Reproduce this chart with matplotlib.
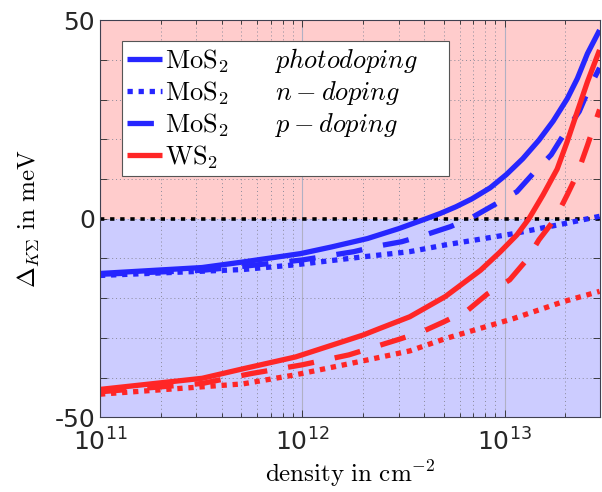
import matplotlib
matplotlib.use('Agg')
import matplotlib.pyplot as plt
from matplotlib.ticker import LogLocator, NullFormatter

plt.rcParams['axes.unicode_minus'] = False

# values, density in cm^-2, energy in meV
dens_mos2_photo = [1.0e11, 3.2e11, 5.1e11, 9.8e11, 1.4e12, 2.1e12, 3.0e12, 4.1e12, 4.8e12, 5.75e12,
                   6.9e12, 8.5e12, 1.02e13, 1.23e13, 1.48e13, 1.74e13, 2.04e13, 2.29e13, 2.57e13, 2.95e13]
e_mos2_photo = [-13.8, -12.3, -10.9, -8.8, -7.1, -5.0, -2.5, 0.0, 1.3, 3.0,
                5.0, 7.8, 11.1, 15.1, 19.8, 24.6, 30.2, 35.3, 41.6, 47.5]

dens_mos2_n = [1.0e11, 5.1e11, 9.3e11, 2.0e12, 3.4e12, 5.1e12, 1.1e13, 1.95e13, 2.95e13]
e_mos2_n = [-14.3, -12.8, -11.6, -9.6, -8.3, -6.6, -3.8, -1.3, 0.6]

dens_mos2_p = [1.0e11, 3.2e11, 5.1e11, 1.0e12, 1.8e12, 2.3e12, 3.1e12, 4.1e12, 5.4e12, 6.9e12,
               8.9e12, 1.15e13, 1.38e13, 1.7e13, 2.0e13, 2.34e13, 2.63e13, 2.95e13]
e_mos2_p = [-14.0, -13.0, -12.0, -10.4, -8.3, -7.0, -5.8, -4.0, -2.0, 0.3,
            3.5, 6.8, 11.3, 16.1, 21.9, 27.0, 33.0, 38.0]

dens_ws2_photo = [1.0e11, 3.2e11, 5.1e11, 9.3e11, 2.0e12, 2.4e12, 3.4e12, 5.1e12, 7.6e12, 9.5e12,
                  1.15e13, 1.32e13, 1.55e13, 1.82e13, 2.04e13, 2.29e13, 2.57e13, 2.95e13]
e_ws2_photo = [-43.0, -40.2, -37.8, -34.8, -29.3, -27.7, -24.7, -19.6, -13.0, -8.4,
               -4.1, 0.0, 6.0, 12.5, 19.4, 27.0, 34.5, 42.5]

dens_ws2_n = [1.0e11, 5.1e11, 9.3e11, 2.0e12, 3.4e12, 5.1e12, 1.1e13, 1.95e13, 2.95e13]
e_ws2_n = [-44.2, -41.6, -39.3, -35.8, -33.3, -30.2, -25.2, -20.9, -18.3]

dens_ws2_p = [1.0e11, 3.2e11, 5.6e11, 1.0e12, 1.7e12, 3.0e12, 3.9e12, 5.0e12, 6.6e12, 8.2e12,
              1.06e13, 1.29e13, 1.48e13, 1.78e13, 2.04e13, 2.29e13, 2.57e13, 2.95e13]
e_ws2_p = [-43.6, -41.5, -39.0, -36.8, -34.3, -30.4, -28.5, -26.0, -23.0, -19.0,
           -15.4, -10.3, -5.3, 0.0, 6.0, 11.3, 18.5, 27.5]

y_ticks = [-50, -40, -30, -20, -10, 0, 10, 20, 30, 40, 50]
y_ticklabels = ['-50', '', '', '', '', '0', '', '', '', '', '50']

legend_labels = [r'$\mathrm{MoS}_2\qquad photodoping$    ',
                 r'$\mathrm{MoS}_2\qquad n-doping$',
                 r'$\mathrm{MoS}_2\qquad p-doping$',
                 r'$\mathrm{WS}_2$']

blue = '#2626ff'
red = '#ff2626'
lw = 3.8
dot = (0, (1.0, 1.1))
dash = (0, (5.0, 4.0))

fig = plt.figure(figsize=(6.02, 4.92), dpi=100)
ax = fig.add_axes([0.166, 0.152, 0.830, 0.807])

ax.axhspan(0, 50, color='#ffcccc', zorder=0, lw=0)
ax.axhspan(-50, 0, color='#ccccff', zorder=0, lw=0)
ax.set_axisbelow(True)

h1, = ax.plot(dens_mos2_photo, e_mos2_photo, color=blue, lw=lw, solid_capstyle='butt', solid_joinstyle='round')
h2, = ax.plot(dens_mos2_n, e_mos2_n, color=blue, lw=lw, ls=dot, dash_capstyle='butt')
h3, = ax.plot(dens_mos2_p, e_mos2_p, color=blue, lw=lw, ls=dash, dash_capstyle='butt')
h4, = ax.plot(dens_ws2_photo, e_ws2_photo, color=red, lw=lw, solid_capstyle='butt', solid_joinstyle='round')
ax.plot(dens_ws2_n, e_ws2_n, color=red, lw=lw, ls=dot, dash_capstyle='butt')
ax.plot(dens_ws2_p, e_ws2_p, color=red, lw=lw, ls=dash, dash_capstyle='butt')
ax.axhline(0, color='black', lw=2.6, ls=(0, (1.2, 1.6)), dash_capstyle='butt', zorder=1.5)

ax.set_xscale('log')
ax.set_xlim(1e11, 2.95e13)
ax.set_ylim(-50, 50)

ax.set_yticks(y_ticks)
ax.set_yticklabels(y_ticklabels)
ax.xaxis.set_major_locator(LogLocator(base=10, numticks=10))
ax.xaxis.set_minor_locator(LogLocator(base=10, subs=range(2, 10), numticks=20))
ax.xaxis.set_minor_formatter(NullFormatter())

ax.tick_params(which='both', direction='in', top=True, right=True, labelsize=18, colors='#262626')
ax.tick_params(which='major', length=5, width=0.6)
ax.tick_params(which='minor', length=3, width=0.6)
ax.tick_params(axis='x', pad=8)

ax.grid(True, which='major', axis='y', ls=(0, (1, 3)), color='#8a8a9a', lw=0.7)
ax.grid(True, which='major', axis='x', ls='-', color='#b0b0c4', lw=0.8)
ax.grid(True, which='minor', axis='x', ls=(0, (1, 3)), color='#8a8a9a', lw=0.7)

for s in ax.spines.values():
    s.set_color('#404050')
    s.set_linewidth(0.8)

xl = ax.set_xlabel(r'$\mathrm{density\ in\ cm}^{-2}$', fontsize=18, labelpad=2)
xl.set_math_fontfamily('cm')
yl = ax.set_ylabel(r'$\Delta_{K\Sigma}\ \mathrm{in\ meV}$', fontsize=18, labelpad=9)
yl.set_math_fontfamily('cm')

leg = ax.legend([h1, h2, h3, h4], legend_labels, loc='upper left', bbox_to_anchor=(0.044, 0.947),
                borderaxespad=0, fontsize=19, fancybox=False, framealpha=1, edgecolor='#555555',
                handlelength=1.3, handletextpad=0.15, labelspacing=0.15, borderpad=0.2)
leg.get_frame().set_linewidth(0.8)
for t in leg.get_texts():
    t.set_math_fontfamily('cm')

fig.savefig('out.png', dpi=100)
